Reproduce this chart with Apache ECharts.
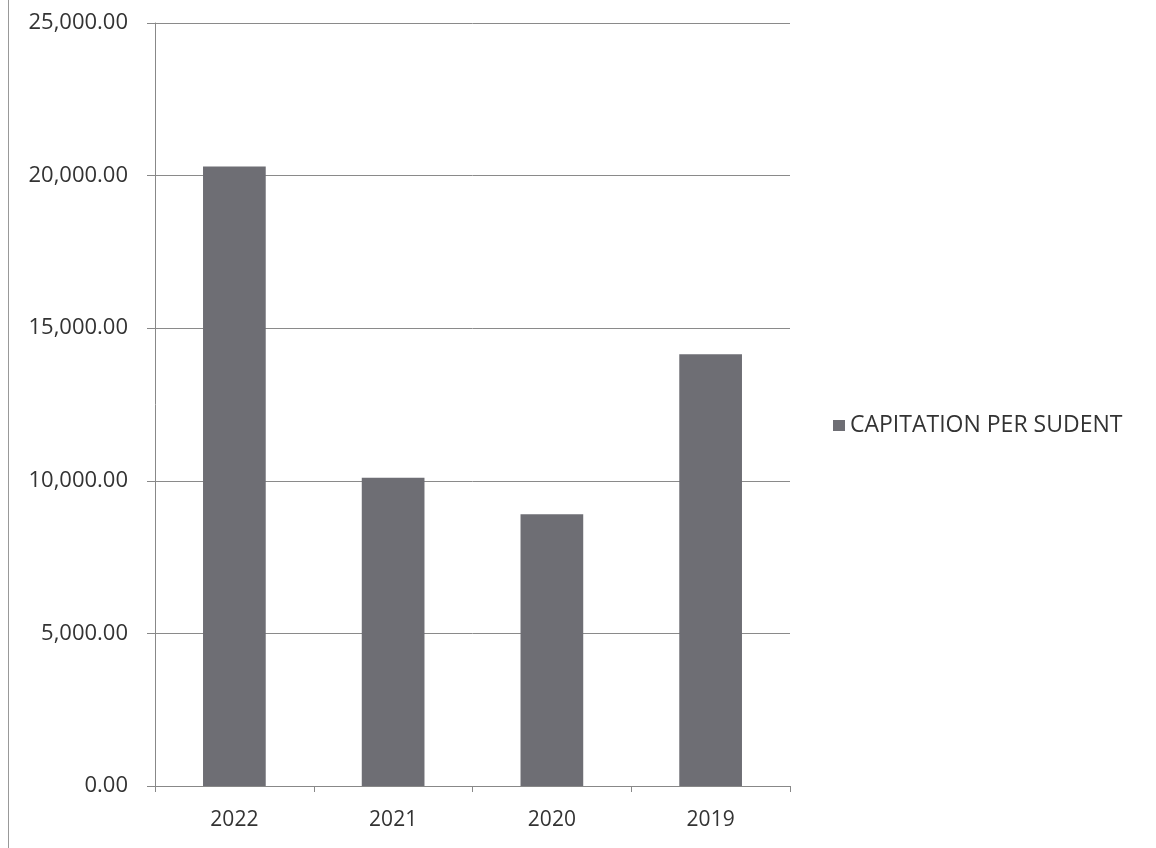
<!DOCTYPE html>
<html>
<head>
<meta charset="utf-8">
<script src="https://cdn.jsdelivr.net/npm/echarts@6/dist/echarts.min.js"></script>
<style>
html,body{margin:0;padding:0;background:#fff;}
#chart{width:1156px;height:848px;}
</style>
</head>
<body>
<div id="chart"></div>
<script>
const categories = ['2022', '2021', '2020', '2019'];
const capitationPerStudent = [20300, 10100, 8900, 14150];
const seriesName = 'CAPITATION PER SUDENT';

const chart = echarts.init(document.getElementById('chart'));
chart.setOption({
  backgroundColor: '#ffffff',
  animation: false,
  textStyle: { fontFamily: 'Open Sans' },
  grid: { left: 155, right: 366, top: 23, bottom: 62 },
  legend: {
    data: [seriesName],
    left: 828, top: 409,
    orient: 'vertical',
    icon: 'rect',
    itemWidth: 12, itemHeight: 11,
    textStyle: { fontSize: 23, color: '#333', fontFamily: 'Open Sans' }
  },
  xAxis: {
    type: 'category',
    data: categories,
    axisLine: { lineStyle: { color: '#888', width: 1 } },
    axisTick: { show: true, length: 6, alignWithLabel: false, lineStyle: { color: '#888' } },
    axisLabel: { fontSize: 21, color: '#333', margin: 24, fontFamily: 'Open Sans' }
  },
  yAxis: {
    type: 'value',
    min: 0, max: 25000, interval: 5000,
    axisLine: { show: true, lineStyle: { color: '#888', width: 1 } },
    axisTick: { show: true, length: 8, lineStyle: { color: '#888' } },
    splitLine: { lineStyle: { color: '#8a8a8a', width: 1 } },
    axisLabel: {
      fontSize: 22, color: '#333', margin: 27, fontFamily: 'Open Sans',
      formatter: v => v.toLocaleString('en-US', { minimumFractionDigits: 2, maximumFractionDigits: 2 })
    }
  },
  series: [{
    name: seriesName,
    type: 'bar',
    data: capitationPerStudent,
    barWidth: '39.5%',
    itemStyle: { color: '#6e6e74' }
  }],
  graphic: [{
    type: 'line',
    shape: { x1: 8.5, y1: 0, x2: 8.5, y2: 848 },
    style: { stroke: '#999', lineWidth: 1 }
  }]
});
</script>
</body>
</html>
